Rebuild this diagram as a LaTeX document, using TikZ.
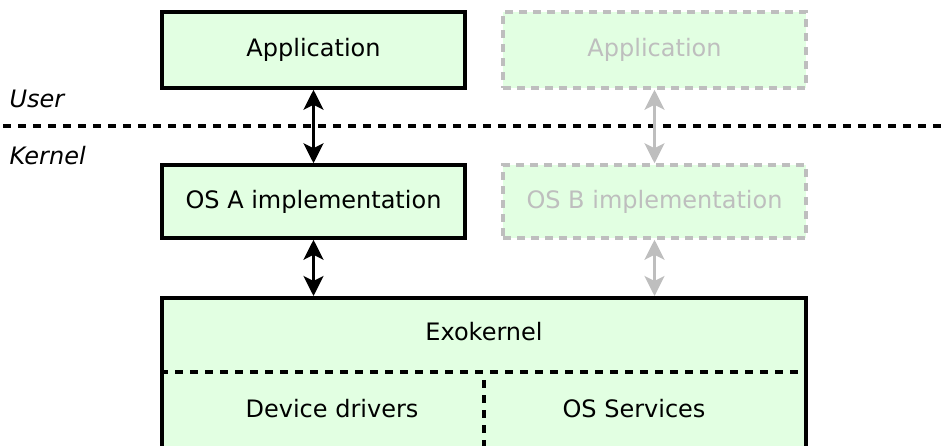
\documentclass[tikz,border=0pt]{standalone}
\usepackage{fontspec}
\setmainfont{DejaVu Sans}
\usetikzlibrary{arrows.meta}
\definecolor{boxfill}{RGB}{226,255,226}
\definecolor{ghost}{RGB}{190,190,190}
\tikzset{
  layer/.style = {draw = black, fill = boxfill, line width = 3.5pt, minimum width = 303pt, font = \fontsize{24}{28}\selectfont},
  ghostlayer/.style = {layer, draw = ghost, text = ghost, dash pattern = on 8pt off 6pt},
  link/.style = {line width = 3pt, {Stealth[length=20pt, width=20pt, inset=5pt]}-{Stealth[length=20pt, width=20pt, inset=5pt]}},
  sep/.style = {line width = 4pt, dash pattern = on 8pt off 7pt},
  side/.style = {anchor = west, font = \fontsize{24}{28}\selectfont\itshape}
}
\begin{document}
\begin{tikzpicture}[x=1pt, y=-1pt]
\useasboundingbox (0,0) rectangle (946,445);
\clip (0,0) rectangle (946,445);
% user / kernel boundary
\draw[sep, dash phase = -3pt] (0,126) -- (946,126);
\node[side] (user) at (6,99) {User};
\node[side] (kernel) at (6,156) {Kernel};
% stacks
\node[layer, minimum height = 76pt] (appA) at (313.5,50) {Application};
\node[layer, minimum height = 73pt] (osA) at (313.5,201.5) {OS A implementation};
\node[ghostlayer, minimum height = 76pt] (appB) at (654.5,50) {Application};
\node[ghostlayer, minimum height = 73pt] (osB) at (654.5,201.5) {OS B implementation};
% exokernel
\node[layer, minimum width = 644pt, minimum height = 220pt, anchor = north] (exo) at (484,296) {};
\node[font = \fontsize{24}{28}\selectfont] (exoname) at (484,332) {Exokernel};
\node[font = \fontsize{24}{28}\selectfont] (drivers) at (332,409) {Device drivers};
\node[font = \fontsize{24}{28}\selectfont] (services) at (634,409) {OS Services};
\coordinate (splitL) at (exo.west |- 0,372);
\coordinate (splitR) at (exo.east |- 0,372);
\coordinate (splitT) at (484,380);
\coordinate (splitB) at (484,460);
\draw[sep] (splitL) -- (splitR);
\draw[sep] (splitT) -- (splitB);
% links
\draw[link] (appA) -- (osA);
\draw[link] (osA) -- (osA |- exo.north);
\draw[link, draw = ghost, fill = ghost] (appB) -- (osB);
\draw[link, draw = ghost, fill = ghost] (osB) -- (osB |- exo.north);
\end{tikzpicture}
\end{document}
